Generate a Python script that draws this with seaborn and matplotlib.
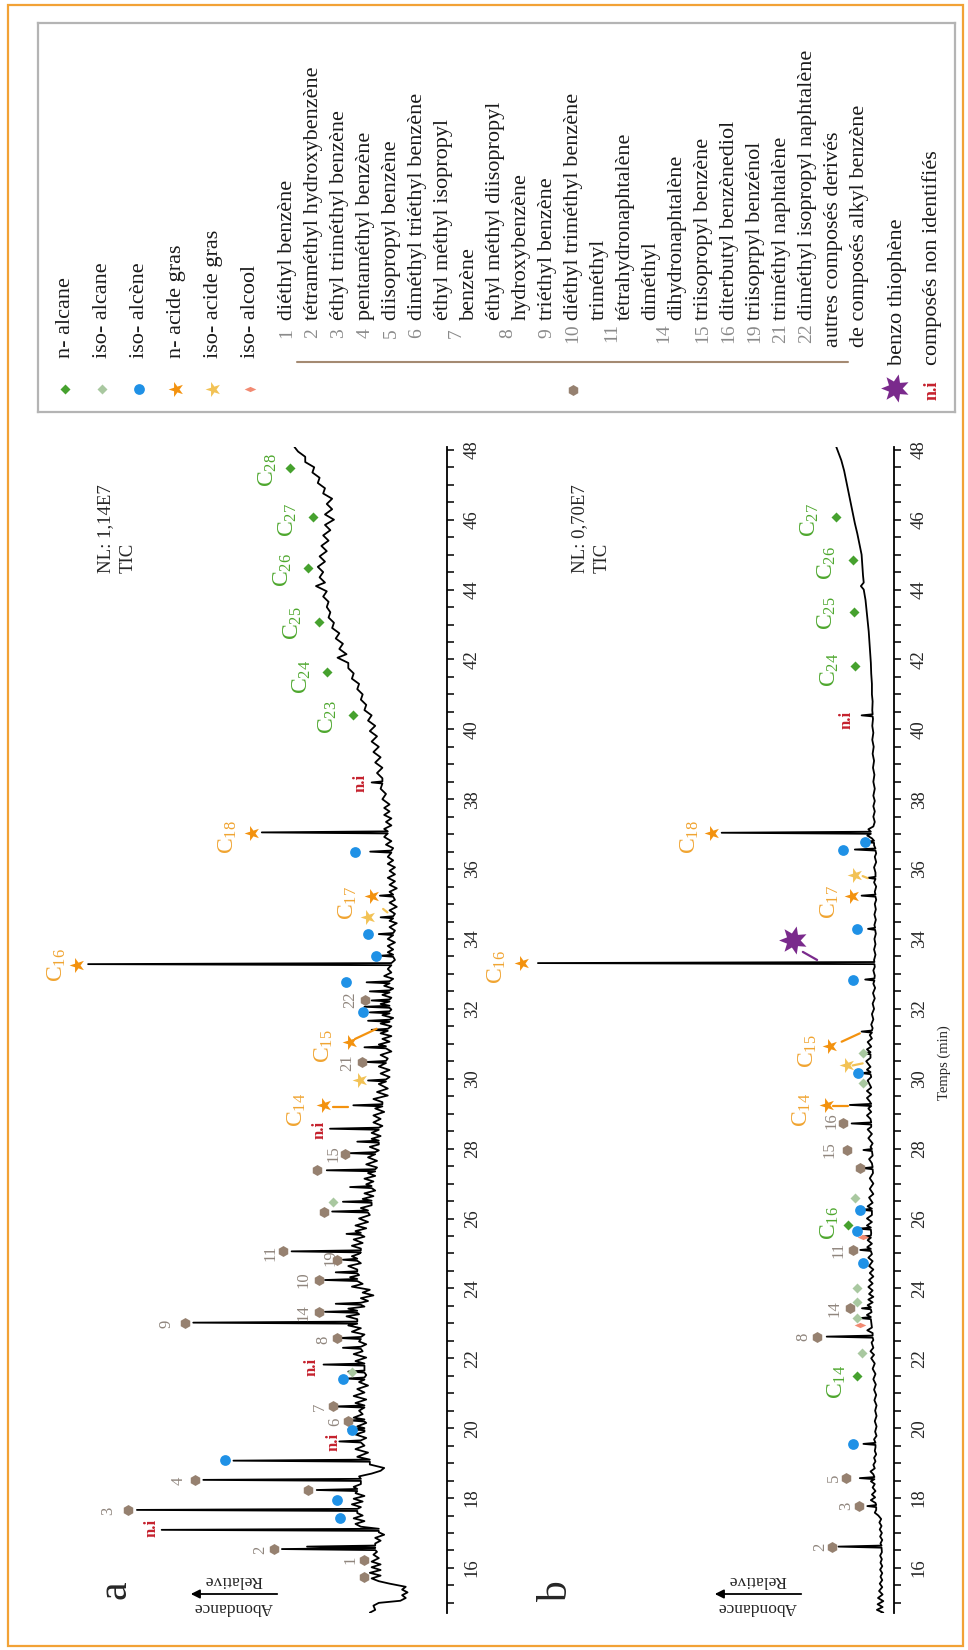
import matplotlib
matplotlib.use("Agg")
import pandas as pd
import matplotlib.pyplot as plt
import seaborn as sns
from matplotlib.markers import MarkerStyle
from matplotlib.patches import Rectangle
from matplotlib.path import Path
from matplotlib.ticker import MultipleLocator
from matplotlib.transforms import Affine2D

W, H = 968, 1650

# ---------------- chromatogram a (NL 1,14E7): (time min, relative abundance)
a_baseline = [
    (14.72, 21.5), (14.80, 20.0), (14.92, 20.5), (15.00, 19.0), (15.06, 13.0), (15.14, 11.5),
    (15.22, 12.5), (15.30, 11.0), (15.38, 12.5), (15.46, 11.5), (15.55, 16.0), (15.62, 19.0),
    (15.70, 21.0), (15.78, 18.5), (15.86, 21.5), (15.94, 18.5), (16.02, 21.0), (16.10, 18.5),
    (16.18, 21.0), (16.28, 19.0), (16.38, 20.5), (16.46, 19.5), (16.70, 20.0), (16.78, 18.5),
    (16.86, 20.0), (16.95, 17.5), (17.02, 19.0), (17.18, 24.0), (17.26, 25.5), (17.34, 23.0),
    (17.42, 26.0), (17.50, 23.5), (17.57, 25.0), (17.74, 24.0), (17.82, 26.5), (17.90, 23.5),
    (17.98, 26.0), (18.06, 23.0), (18.14, 25.5), (18.32, 26.0), (18.40, 24.0), (18.62, 24.5),
    (18.70, 21.0), (18.78, 18.5), (18.86, 17.5), (18.96, 21.5), (19.18, 25.0), (19.30, 22.0),
    (19.40, 25.5), (19.50, 23.0), (19.72, 22.5), (19.82, 25.5), (19.90, 23.0), (20.05, 25.0),
    (20.15, 22.5), (20.30, 26.0), (20.40, 23.5), (20.50, 24.5), (20.72, 25.5), (20.82, 22.5),
    (20.92, 26.0), (21.02, 23.0), (21.12, 25.0), (21.22, 22.0), (21.32, 24.5), (21.52, 22.5),
    (21.72, 23.0), (21.92, 25.5), (22.02, 22.5), (22.12, 26.0), (22.20, 23.5), (22.40, 22.5),
    (22.48, 24.5), (22.68, 23.0), (22.76, 26.5), (22.86, 24.0), (22.94, 27.5), (23.12, 25.0),
    (23.20, 28.0), (23.26, 24.5), (23.42, 27.5), (23.48, 23.0), (23.64, 22.0), (23.72, 24.0),
    (23.80, 20.5), (23.88, 23.5), (23.96, 21.5), (24.05, 26.5), (24.13, 23.5), (24.32, 27.0),
    (24.38, 24.5), (24.54, 25.0), (24.64, 27.5), (24.72, 24.0), (24.92, 26.5), (24.99, 24.5),
    (25.14, 24.0), (25.22, 26.5), (25.30, 23.5), (25.40, 26.0), (25.48, 23.0), (25.64, 25.5),
    (25.72, 22.5), (25.80, 25.5), (25.90, 22.0), (26.00, 24.5), (26.10, 21.5), (26.30, 24.0),
    (26.38, 21.0), (26.56, 23.5), (26.64, 20.5), (26.72, 23.0), (26.80, 20.0), (26.98, 22.5),
    (27.06, 20.5), (27.14, 23.0), (27.22, 20.0), (27.30, 22.0), (27.46, 19.5), (27.55, 22.5),
    (27.65, 19.5), (27.75, 22.0), (27.95, 19.0), (28.05, 21.5), (28.12, 19.0), (28.28, 21.0),
    (28.36, 18.5), (28.45, 21.0), (28.65, 18.0), (28.75, 20.5), (28.85, 18.5), (28.95, 20.5),
    (29.05, 17.5), (29.15, 20.0), (29.33, 18.0), (29.42, 20.5), (29.52, 16.5), (29.62, 19.5),
    (29.72, 16.5), (29.85, 19.0), (30.05, 16.0), (30.15, 18.5), (30.25, 16.0), (30.35, 19.0),
    (30.58, 16.5), (30.68, 18.5), (30.78, 15.5), (30.98, 19.0), (31.06, 16.0), (31.14, 18.0),
    (31.22, 15.5), (31.30, 18.5), (31.50, 15.5), (31.58, 18.5), (31.74, 15.0), (31.82, 18.0),
    (31.98, 15.5), (32.14, 18.5), (32.32, 15.5), (32.40, 18.0), (32.58, 15.0), (32.66, 17.5),
    (32.86, 15.0), (32.94, 17.5), (33.04, 15.5), (33.14, 16.5), (33.40, 14.5), (33.62, 16.5),
    (33.70, 15.0), (33.80, 16.5), (33.90, 14.5), (34.00, 16.5), (34.24, 14.5), (34.34, 16.0),
    (34.45, 14.0), (34.52, 16.0), (34.72, 14.5), (34.82, 16.0), (34.92, 14.0), (35.04, 16.0),
    (35.12, 14.5), (35.35, 16.0), (35.45, 14.0), (35.55, 16.0), (35.65, 14.5), (35.75, 16.5),
    (35.85, 14.5), (35.95, 16.0), (36.05, 14.5), (36.15, 16.5), (36.25, 15.0), (36.35, 16.5),
    (36.60, 15.0), (36.70, 17.0), (36.80, 15.5), (36.92, 17.5), (37.15, 17.5), (37.25, 15.5),
    (37.35, 17.0), (37.45, 15.5), (37.55, 17.5), (37.65, 16.0), (37.75, 17.5), (37.85, 16.0),
    (38.00, 18.0), (38.15, 17.0), (38.30, 18.5), (38.60, 18.0), (38.75, 19.5), (38.90, 18.0),
    (39.05, 20.0), (39.20, 18.5), (39.35, 20.5), (39.50, 19.0), (39.65, 21.0), (39.80, 19.5),
    (39.95, 21.5), (40.10, 20.0), (40.25, 22.0), (40.40, 21.0), (40.55, 23.0), (40.70, 22.5),
    (40.85, 24.0), (41.00, 23.5), (41.15, 25.0), (41.30, 24.5), (41.45, 26.5), (41.60, 26.0),
    (41.75, 27.5), (41.90, 27.5), (42.05, 30.5), (42.15, 28.0), (42.30, 30.0), (42.45, 29.0),
    (42.60, 31.0), (42.75, 30.0), (42.90, 32.0), (43.05, 31.5), (43.20, 33.0), (43.35, 32.5),
    (43.50, 33.5), (43.65, 33.0), (43.80, 34.5), (43.95, 33.5), (44.10, 36.5), (44.20, 34.0),
    (44.35, 35.5), (44.50, 34.5), (44.65, 36.0), (44.80, 34.0), (44.95, 35.5), (45.10, 33.5),
    (45.25, 35.0), (45.40, 33.0), (45.55, 34.5), (45.70, 32.5), (45.85, 34.0), (46.00, 31.5),
    (46.15, 34.0), (46.30, 32.0), (46.45, 33.5), (46.60, 32.0), (46.75, 34.5), (46.90, 34.0),
    (47.05, 36.0), (47.20, 35.5), (47.35, 37.5), (47.50, 37.0), (47.65, 39.5), (47.80, 39.5),
    (47.95, 41.5), (48.08, 42.5),
]
# peaks: (time, foot level, apex)
a_peaks = [
    (16.54, 20.0, 46.0), (16.61, 20.0, 39.0), (17.09, 19.0, 79.5), (17.66, 25.0, 86.4),
    (18.23, 25.0, 36.3), (18.52, 24.0, 67.9), (19.07, 21.5, 59.5), (19.62, 24.0, 30.0),
    (19.97, 23.0, 27.5), (20.22, 23.0, 27.0), (20.62, 23.0, 31.5), (21.42, 23.0, 28.0),
    (21.62, 23.0, 27.5), (21.82, 23.0, 34.4), (22.30, 24.0, 29.0), (22.58, 24.0, 30.0),
    (23.02, 25.0, 70.7), (23.33, 25.0, 34.0), (23.56, 24.0, 31.0), (24.24, 25.0, 34.0),
    (24.46, 25.0, 31.0), (24.82, 25.0, 29.0), (25.06, 24.0, 43.3), (25.56, 24.0, 28.0),
    (26.20, 22.0, 32.0), (26.48, 21.0, 29.0), (26.90, 21.0, 27.0), (27.38, 20.0, 33.5),
    (27.87, 20.0, 27.0), (28.20, 19.0, 25.0), (28.57, 19.0, 32.6), (29.24, 18.0, 26.1),
    (29.95, 17.0, 22.0), (30.48, 17.0, 22.5), (30.90, 17.0, 23.0), (31.40, 16.5, 21.0),
    (31.66, 16.0, 22.0), (31.90, 16.0, 21.5), (32.06, 16.0, 23.0), (32.24, 16.0, 21.0),
    (32.50, 16.0, 21.5), (32.76, 16.0, 22.4), (33.28, 15.5, 100.0), (33.52, 15.0, 18.5),
    (34.14, 15.0, 19.0), (34.62, 15.0, 18.5), (35.24, 15.0, 18.7), (36.50, 15.5, 21.4),
    (37.05, 16.5, 51.6), (38.48, 18.0, 21.0),
]
a_marks = [
    ("alkylbenz", 15.74, 23.1), ("alkylbenz", 16.22, 23.1), ("alkylbenz", 16.53, 48.1),
    ("alkylbenz", 17.66, 89.0), ("alkylbenz", 18.23, 38.8), ("alkylbenz", 18.51, 70.2),
    ("alkylbenz", 20.21, 27.5), ("alkylbenz", 20.62, 31.7), ("alkylbenz", 22.57, 30.7),
    ("alkylbenz", 23.02, 73.0), ("alkylbenz", 23.32, 35.8), ("alkylbenz", 24.23, 35.8),
    ("alkylbenz", 24.80, 30.7), ("alkylbenz", 25.06, 45.8), ("alkylbenz", 26.19, 34.4),
    ("alkylbenz", 27.38, 36.3), ("alkylbenz", 27.86, 28.4), ("alkylbenz", 30.48, 23.8),
    ("alkylbenz", 32.24, 22.8),
    ("iso_alcene", 17.42, 29.8), ("iso_alcene", 17.95, 30.7), ("iso_alcene", 19.09, 61.8),
    ("iso_alcene", 19.95, 26.5), ("iso_alcene", 21.41, 28.9), ("iso_alcene", 31.90, 23.3),
    ("iso_alcene", 32.76, 28.1), ("iso_alcene", 33.52, 19.8), ("iso_alcene", 34.14, 21.9),
    ("iso_alcene", 36.50, 25.6),
    ("iso_alcane", 21.60, 26.5), ("iso_alcane", 26.47, 31.7),
    ("n_acide", 29.24, 34.4), ("n_acide", 31.05, 27.0), ("n_acide", 33.26, 103.0),
    ("n_acide", 35.24, 21.0), ("n_acide", 37.04, 54.4),
    ("iso_acide", 29.95, 24.2), ("iso_acide", 34.62, 21.9),
    ("n_alcane", 40.41, 26.2), ("n_alcane", 41.65, 33.5), ("n_alcane", 43.08, 35.8),
    ("n_alcane", 44.61, 38.6), ("n_alcane", 46.09, 37.2), ("n_alcane", 47.47, 43.7),
]
a_labels = [
    ("C$_{16}$", "acid", 33.26, 108.8), ("C$_{18}$", "acid", 36.93, 61.1),
    ("C$_{17}$", "acid", 35.02, 27.5), ("C$_{15}$", "acid", 30.92, 34.4),
    ("C$_{14}$", "acid", 29.10, 41.9),
    ("C$_{23}$", "alk", 40.36, 33.1), ("C$_{24}$", "alk", 41.50, 40.4),
    ("C$_{25}$", "alk", 43.05, 42.9), ("C$_{26}$", "alk", 44.56, 45.7),
    ("C$_{27}$", "alk", 45.99, 44.3), ("C$_{28}$", "alk", 47.42, 49.9),
    ("1", "num", 16.23, 27.0), ("2", "num", 16.53, 52.1), ("3", "num", 17.64, 94.3),
    ("4", "num", 18.49, 74.9), ("6", "num", 20.19, 31.2), ("7", "num", 20.62, 35.4),
    ("8", "num", 22.53, 34.4), ("9", "num", 22.98, 78.1), ("14", "num", 23.30, 40.0),
    ("10", "num", 24.24, 40.0), ("19", "num", 24.87, 32.6), ("11", "num", 25.01, 49.3),
    ("15", "num", 27.87, 31.7), ("21", "num", 30.45, 27.9), ("22", "num", 32.26, 27.0),
    ("n.i", "ni", 17.14, 82.3), ("n.i", "ni", 19.61, 31.7), ("n.i", "ni", 21.76, 37.7),
    ("n.i", "ni", 28.54, 35.4), ("n.i", "ni", 38.47, 24.2),
]
a_links = [
    ("n_acide", 29.19, 31.7, 29.19, 27.5), ("n_acide", 31.14, 25.6, 31.43, 19.6),
    ("iso_acide", 34.86, 17.8, 34.76, 16.6),
]

# ---------------- chromatogram b (NL 0,70E7)
b_baseline = [
    (14.66, 4.5), (14.72, 3.0), (14.80, 4.8), (14.88, 3.2), (14.96, 4.6), (15.05, 3.0),
    (15.14, 4.5), (15.24, 3.2), (15.34, 4.2), (15.45, 3.3), (15.55, 4.0), (15.65, 3.3),
    (15.75, 3.8), (15.85, 3.3), (15.95, 3.9), (16.05, 3.3), (16.15, 3.8), (16.25, 3.4),
    (16.35, 3.9), (16.45, 3.4), (16.70, 3.8), (16.80, 3.3), (16.90, 3.9), (17.00, 3.4),
    (17.10, 4.0), (17.20, 3.5), (17.30, 4.1), (17.40, 3.6), (17.50, 4.4), (17.58, 5.4),
    (17.66, 5.0), (17.86, 5.2), (17.94, 6.5), (18.02, 5.3), (18.10, 6.2), (18.20, 5.2),
    (18.30, 6.0), (18.40, 5.4), (18.48, 6.5), (18.68, 5.8), (18.76, 6.6), (18.85, 5.4),
    (18.95, 5.8), (19.05, 5.2), (19.15, 5.6), (19.25, 5.0), (19.35, 5.4), (19.45, 5.2),
    (19.68, 5.6), (19.78, 4.9), (19.90, 5.3), (20.05, 4.9), (20.20, 5.4), (20.35, 4.9),
    (20.50, 5.3), (20.65, 4.9), (20.80, 5.5), (20.95, 5.0), (21.10, 5.6), (21.25, 5.1),
    (21.40, 5.8), (21.55, 5.2), (21.70, 6.0), (21.85, 5.4), (22.00, 6.4), (22.10, 5.6),
    (22.20, 6.6), (22.30, 5.8), (22.45, 6.3), (22.52, 5.8), (22.72, 6.0), (22.80, 7.5),
    (22.88, 6.2), (23.04, 6.4), (23.24, 7.6), (23.32, 6.3), (23.52, 7.4), (23.60, 6.0),
    (23.68, 7.2), (23.76, 5.8), (23.84, 7.0), (23.94, 6.0), (24.04, 7.2), (24.14, 6.0),
    (24.24, 7.0), (24.34, 5.8), (24.44, 6.8), (24.54, 5.8), (24.64, 7.0), (24.78, 6.0),
    (24.88, 7.2), (24.98, 6.2), (25.18, 7.5), (25.28, 6.2), (25.38, 7.4), (25.58, 6.4),
    (25.80, 7.6), (25.90, 6.2), (26.00, 7.6), (26.10, 6.2), (26.35, 7.4), (26.45, 6.0),
    (26.60, 7.0), (26.70, 5.8), (26.85, 6.8), (27.00, 5.8), (27.15, 6.8), (27.30, 5.9),
    (27.58, 6.2), (27.70, 7.0), (27.80, 6.0), (28.05, 6.6), (28.15, 6.0), (28.30, 7.2),
    (28.42, 6.2), (28.55, 7.4), (28.62, 6.4), (28.85, 6.6), (28.95, 7.6), (29.05, 6.4),
    (29.15, 7.2), (29.35, 6.8), (29.45, 7.6), (29.55, 6.4), (29.65, 7.6), (29.75, 6.4),
    (29.95, 7.4), (30.05, 6.4), (30.26, 7.6), (30.34, 6.6), (30.50, 7.8), (30.60, 6.6),
    (30.84, 7.6), (30.92, 6.4), (31.05, 7.4), (31.15, 6.2), (31.25, 6.8), (31.45, 6.0),
    (31.55, 6.4), (31.70, 5.8), (31.85, 6.2), (32.00, 5.6), (32.15, 6.0), (32.30, 5.4),
    (32.45, 5.9), (32.60, 5.3), (32.72, 5.8), (32.95, 5.4), (33.10, 5.8), (33.20, 5.4),
    (33.40, 5.6), (33.55, 5.2), (33.70, 5.6), (33.85, 5.2), (34.00, 5.5), (34.15, 5.1),
    (34.40, 5.5), (34.55, 5.1), (34.70, 5.5), (34.85, 5.1), (35.00, 5.4), (35.12, 5.0),
    (35.35, 5.4), (35.50, 5.0), (35.62, 5.6), (35.90, 5.2), (36.05, 5.6), (36.20, 5.0),
    (36.35, 5.4), (36.45, 5.0), (36.68, 5.6), (36.88, 6.2), (36.96, 7.5), (37.14, 7.2),
    (37.22, 5.8), (37.35, 5.4), (37.50, 5.8), (37.65, 5.4), (37.80, 5.8), (37.95, 5.4),
    (38.10, 5.8), (38.30, 5.4), (38.50, 5.8), (38.70, 5.5), (38.90, 5.9), (39.10, 5.6),
    (39.30, 6.0), (39.50, 5.7), (39.70, 6.1), (39.90, 5.8), (40.10, 6.1), (40.30, 5.9),
    (40.55, 6.1), (40.80, 6.0), (41.00, 6.2), (41.30, 6.2), (41.60, 6.4), (41.90, 6.5),
    (42.20, 6.7), (42.50, 6.9), (42.80, 7.1), (43.10, 7.4), (43.40, 7.7), (43.70, 8.0),
    (44.00, 8.5), (44.10, 9.3), (44.20, 8.5), (44.40, 8.7), (44.70, 8.9), (45.00, 9.1),
    (45.30, 9.7), (45.60, 10.3), (45.90, 11.0), (46.20, 11.6), (46.50, 12.2), (46.80, 12.8),
    (47.10, 13.4), (47.40, 14.0), (47.70, 14.8), (48.08, 16.2),
]
b_peaks = [
    (16.61, 3.5, 15.6), (17.77, 5.0, 7.5), (18.57, 5.5, 9.6), (19.55, 5.2, 8.6),
    (22.62, 6.0, 18.9), (23.15, 6.5, 9.5), (23.43, 6.5, 9.0), (25.10, 6.5, 9.5),
    (25.48, 6.5, 9.0), (25.71, 6.5, 10.0), (26.25, 6.2, 9.0), (27.44, 6.0, 8.6),
    (27.96, 6.2, 8.6), (28.72, 6.4, 11.9), (29.25, 6.4, 12.4), (30.16, 6.6, 9.0),
    (30.73, 6.6, 8.6), (31.35, 6.2, 9.1), (32.84, 5.5, 8.1), (33.31, 5.5, 100.0),
    (34.29, 5.3, 7.3), (35.24, 5.2, 9.1), (35.75, 5.2, 7.3), (36.56, 5.2, 11.0),
    (36.78, 5.6, 8.1), (37.04, 6.5, 48.4), (40.40, 6.0, 9.1),
]
b_marks = [
    ("alkylbenz", 16.61, 17.5), ("alkylbenz", 17.77, 9.7), ("alkylbenz", 18.57, 13.5),
    ("alkylbenz", 22.62, 21.7), ("alkylbenz", 23.43, 12.4), ("alkylbenz", 25.10, 11.4),
    ("alkylbenz", 27.44, 9.6), ("alkylbenz", 27.96, 13.3), ("alkylbenz", 28.72, 14.2),
    ("iso_alcene", 19.55, 11.4), ("iso_alcene", 24.72, 8.6), ("iso_alcene", 25.63, 10.5),
    ("iso_alcene", 26.25, 9.6), ("iso_alcene", 30.16, 10.0), ("iso_alcene", 32.83, 11.4),
    ("iso_alcene", 34.29, 10.5), ("iso_alcene", 36.55, 14.2), ("iso_alcene", 36.78, 8.1),
    ("iso_alcane", 22.16, 9.1), ("iso_alcane", 23.15, 10.5), ("iso_alcane", 23.62, 10.5),
    ("iso_alcane", 24.00, 10.5), ("iso_alcane", 26.58, 11.0), ("iso_alcane", 29.87, 8.6),
    ("iso_alcane", 30.73, 8.6),
    ("iso_alcool", 22.95, 9.5), ("iso_alcool", 25.48, 8.6),
    ("n_alcane", 21.50, 10.5), ("n_alcane", 25.82, 12.8), ("n_alcane", 41.80, 11.0),
    ("n_alcane", 43.37, 11.2), ("n_alcane", 44.85, 11.5), ("n_alcane", 46.09, 16.3),
    ("n_acide", 29.25, 18.9), ("n_acide", 30.94, 18.0), ("n_acide", 33.31, 104.6),
    ("n_acide", 35.24, 11.9), ("n_acide", 37.04, 51.2),
    ("iso_acide", 30.40, 13.3), ("iso_acide", 35.83, 11.0),
    ("benzothio", 33.97, 28.3),
]
b_labels = [
    ("C$_{16}$", "acid", 33.21, 111.6), ("C$_{18}$", "acid", 36.93, 57.3),
    ("C$_{17}$", "acid", 35.07, 18.0), ("C$_{15}$", "acid", 30.78, 24.1),
    ("C$_{14}$", "acid", 29.10, 25.9),
    ("C$_{14}$", "alk", 21.33, 16.1), ("C$_{16}$", "alk", 25.86, 18.0),
    ("C$_{24}$", "alk", 41.70, 18.0), ("C$_{25}$", "alk", 43.33, 18.9),
    ("C$_{26}$", "alk", 44.75, 18.9), ("C$_{27}$", "alk", 46.00, 23.6),
    ("2", "num", 16.61, 20.8), ("3", "num", 17.77, 13.3), ("5", "num", 18.57, 17.0),
    ("8", "num", 22.62, 25.5), ("14", "num", 23.43, 16.6), ("11", "num", 25.10, 15.6),
    ("15", "num", 27.96, 18.0), ("16", "num", 28.80, 17.5),
    ("n.i", "ni", 40.27, 13.3),
]
b_links = [
    ("n_acide", 29.23, 17.0, 29.23, 12.8), ("n_acide", 31.06, 14.7, 31.30, 9.6),
    ("benzothio", 33.63, 25.6, 33.40, 21.6), ("iso_acide", 35.80, 8.8, 35.74, 7.4),
    ("iso_acide", 30.38, 11.6, 30.44, 8.8),
]

# ---------------- legend content
leg_kinds = ["n_alcane", "iso_alcane", "iso_alcene", "n_acide", "iso_acide", "iso_alcool"]
leg_kind_names = ["n- alcane", "iso- alcane", "iso- alcène", "n- acide gras",
                  "iso- acide gras", "iso- alcool"]
cmp_nums = ["1", "2", "3", "4", "5", "6", "7", "8", "9", "10", "11", "14", "15", "16",
            "19", "21", "22"]
cmp_names = ["diéthyl benzène", "tétraméthyl hydroxybenzène", "éthyl triméthyl benzène",
             "pentaméthyl benzène", "diisopropyl benzène", "diméthyl triéthyl benzène",
             "éthyl méthyl isopropyl\nbenzène", "éthyl méthyl diisopropyl\nhydroxybenzène",
             "triéthyl benzène", "diéthyl triméthyl benzène",
             "triméthyl\ntétrahydronaphtalène", "diméthyl\ndihydronaphtalène",
             "triisopropyl benzène", "diterbutyl benzènediol", "triisoprpyl benzénol",
             "triméthyl naphtalène", "diméthyl isopropyl naphtalène"]
other_names = ["autres composés derivés", "de composés alkyl benzène"]

COL = {"n_alcane": "#46a12e", "iso_alcane": "#a9c8a0", "iso_alcene": "#1f91e6",
       "n_acide": "#f3920f", "iso_acide": "#f2c255", "iso_alcool": "#f28a72",
       "alkylbenz": "#968170", "benzothio": "#7a2a8c"}
TXT = {"acid": "#f0a431", "alk": "#4ea72e", "num": "#8f857d", "ni": "#c5212d"}
TXT_SIZE = {"acid": 17, "alk": 17, "num": 12, "ni": 12}

star90 = MarkerStyle("*", transform=Affine2D().rotate_deg(90))
sept = MarkerStyle((7, 1, 0), transform=Affine2D().rotate_deg(90))
flat_d = Path([(-1, 0), (0, 0.45), (1, 0), (0, -0.45), (-1, 0)])
MSTYLE = {"n_alcane": ("D", 26), "iso_alcane": ("D", 26), "iso_alcene": ("o", 60),
          "n_acide": (star90, 130), "iso_acide": (star90, 130), "iso_alcool": (flat_d, 70),
          "alkylbenz": ("h", 62), "benzothio": (sept, 430)}

PW = 0.03  # half width of a peak foot, minutes

sns.set_style("white")
plt.rcParams["font.family"] = ["Liberation Serif", "DejaVu Serif"]
plt.rcParams["mathtext.default"] = "regular"


def P(x, y):
    # page pixel -> figure fraction
    return x / W, 1 - y / H


def draw_panel(ax, baseline, peaks, marks, labels, links, xmax):
    pk_t = [p[0] for p in peaks]
    rows = [(t, y) for t, y in baseline if min(abs(t - p) for p in pk_t) > PW * 1.6]
    for t, foot, top in peaks:
        rows += [(t - PW, foot), (t, top), (t + PW, foot)]
    df = pd.DataFrame(rows, columns=["time", "abund"]).sort_values("time")
    sns.lineplot(data=df, x="abund", y="time", orient="y", sort=False, estimator=None,
                 color="black", lw=1.3, ax=ax)

    mk = pd.DataFrame(marks, columns=["kind", "time", "abund"])
    for kind, g in mk.groupby("kind"):
        m, s = MSTYLE[kind]
        ax.scatter(g["abund"], g["time"], marker=m, s=s, c=COL[kind], linewidths=0, zorder=4)
    for kind, t1, y1, t2, y2 in links:
        ax.plot([y1, y2], [t1, t2], color=COL[kind], lw=1.6, zorder=3)
    for txt, kind, t, y in labels:
        ax.text(y, t, txt, rotation=90, ha="center", va="center", color=TXT[kind],
                fontsize=TXT_SIZE[kind], fontweight="bold" if kind == "ni" else "normal")

    ax.set_xlim(xmax, 0)
    ax.set_ylim(14.71, 48.08)
    ax.set_xlabel("")
    ax.set_ylabel("")
    ax.set_xticks([])
    for s in ["left", "top", "bottom"]:
        ax.spines[s].set_visible(False)
    ax.spines["right"].set_color("black")
    ax.spines["right"].set_linewidth(1.3)
    ax.yaxis.tick_right()
    ax.set_yticks(range(16, 49, 2))
    ax.yaxis.set_minor_locator(MultipleLocator(0.5))
    ax.tick_params(axis="y", which="both", direction="out", length=5, width=1.1,
                   color="black", labelsize=13.5, pad=7, labelrotation=90)
    for lab in ax.get_yticklabels():
        lab.set_va("center")
    ax.set_facecolor("none")


fig = plt.figure(figsize=(W / 100, H / 100), dpi=100)

ax_a = fig.add_axes([40 / W, 37 / H, 407 / W, 1166 / H])
draw_panel(ax_a, a_baseline, a_peaks, a_marks, a_labels, a_links, 113.4)
ax_b = fig.add_axes([487 / W, 37 / H, 407 / W, 1166 / H])
draw_panel(ax_b, b_baseline, b_peaks, b_marks, b_labels, b_links, 114.3)

# panel annotations
for (lx, ly), tag in [((115, 1590), "a"), ((557, 1592), "b")]:
    fig.text(*P(lx, ly), tag, rotation=90, ha="center", va="center", fontsize=30)
for x0 in (233, 757):
    fig.text(*P(x0, 1580), "Relative", rotation=180, ha="center", va="center", fontsize=12.5)
    fig.text(*P(x0, 1607), "Abondance", rotation=180, ha="center", va="center", fontsize=12.5)
    ax_a.annotate("", xy=P(x0 - 45, 1594), xytext=P(x0 + 47, 1594),
                  xycoords="figure fraction", textcoords="figure fraction",
                  arrowprops=dict(arrowstyle="-|>", color="black", lw=1.3, mutation_scale=13))
for (x1, x2), nl in [((106, 128), "NL: 1,14E7"), ((580, 602), "NL: 0,70E7")]:
    fig.text(*P(x1, 573), nl, rotation=90, ha="center", va="bottom", fontsize=13.5)
    fig.text(*P(x2, 573), "TIC", rotation=90, ha="center", va="bottom", fontsize=13.5)
fig.text(*P(944, 1063), "Temps (min)", rotation=90, ha="center", va="center", fontsize=10.5)

# legend box
ax_l = fig.add_axes([38 / W, 1 - 412 / H, 917 / W, 389 / H])
ax_l.set_xlim(38, 955)
ax_l.set_ylim(412, 23)
ax_l.set_xticks([])
ax_l.set_yticks([])
for s in ax_l.spines.values():
    s.set_color("#b4b4b4")
    s.set_linewidth(1.6)
for i, (kind, name) in enumerate(zip(leg_kinds, leg_kind_names)):
    x = 65 + 37 * i
    m, s = MSTYLE[kind]
    ax_l.scatter([x], [389], marker=m, s=s, c=COL[kind], linewidths=0)
    ax_l.text(x, 358, name, rotation=90, ha="center", va="bottom", fontsize=16, color="#1a1a1a")
row = 0
for num, name in zip(cmp_nums, cmp_names):
    lines = name.split("\n")
    xc = 287 + 26 * (row + (len(lines) - 1) / 2)
    ax_l.text(xc, 333, num, rotation=90, ha="center", va="center", fontsize=14, color="#8a8a8a")
    for line in lines:
        ax_l.text(287 + 26 * row, 320, line, rotation=90, ha="center", va="bottom",
                  fontsize=16, color="#1a1a1a")
        row += 1
for line in other_names:
    ax_l.text(287 + 26 * row, 347, line, rotation=90, ha="center", va="bottom",
              fontsize=16, color="#1a1a1a")
    row += 1
ax_l.plot([297, 848], [362, 362], color="#a48a72", lw=1.5)
m, s = MSTYLE["alkylbenz"]
ax_l.scatter([573], [390], marker=m, s=s, c=COL["alkylbenz"], linewidths=0)
m, s = MSTYLE["benzothio"]
ax_l.scatter([895], [388], marker=m, s=s, c=COL["benzothio"], linewidths=0)
ax_l.text(897, 365, "benzo thiophène", rotation=90, ha="center", va="bottom", fontsize=16,
          color="#1a1a1a")
ax_l.text(932, 390, "n.i", rotation=90, ha="center", va="center", fontsize=13,
          fontweight="bold", color=TXT["ni"])
ax_l.text(932, 365, "composés non identifiés", rotation=90, ha="center", va="bottom",
          fontsize=16, color="#1a1a1a")

# orange frame
fig.add_artist(Rectangle((8 / W, 4 / H), 955 / W, 1641 / H, transform=fig.transFigure,
                         fill=False, ec="#f2a236", lw=1.6))

fig.savefig("out.png", dpi=100)
